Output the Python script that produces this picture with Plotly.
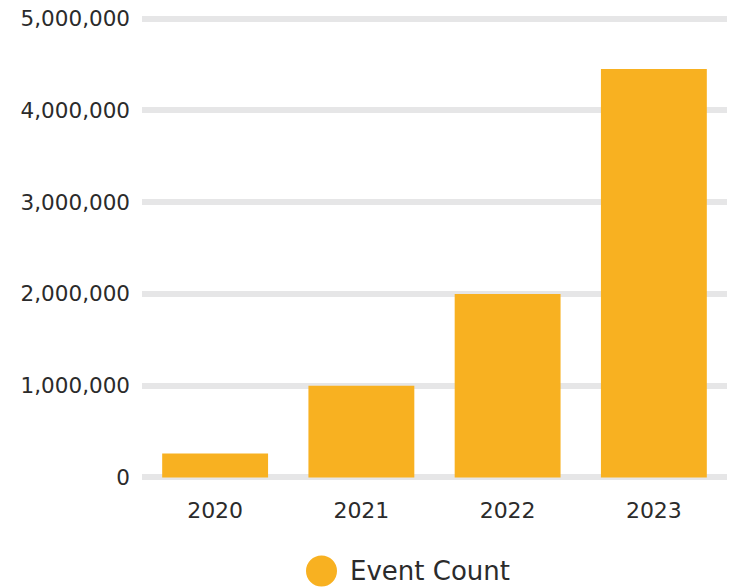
import plotly.graph_objects as go

years = ["2020", "2021", "2022", "2023"]
event_counts = [260000, 1000000, 2000000, 4450000]
y_ticks = [0, 1000000, 2000000, 3000000, 4000000, 5000000]
y_tick_labels = ["0", "1,000,000", "2,000,000", "3,000,000", "4,000,000", "5,000,000"]
series_name = "Event Count"

BAR_COLOR = "#F8B121"
GRID_COLOR = "#E6E6E7"
TEXT_COLOR = "#2B2B2B"
FONT = "DejaVu Sans"

fig = go.Figure()
fig.add_trace(go.Bar(x=years, y=event_counts, marker_color=BAR_COLOR,
                     marker_line_width=0, name=series_name, showlegend=False))

fig.update_layout(
    width=735, height=587,
    margin=dict(l=142, r=8, t=14, b=105, autoexpand=False),
    paper_bgcolor="white", plot_bgcolor="white",
    bargap=0.276,
    font=dict(family=FONT, size=21.5, color=TEXT_COLOR),
    xaxis=dict(type="category", showgrid=False, showline=False, zeroline=False,
               ticks="", ticklabelstandoff=13, automargin=False,
               tickfont=dict(family=FONT, size=22, color=TEXT_COLOR)),
    yaxis=dict(range=[-50000, 5050000], tickvals=y_ticks, ticktext=y_tick_labels,
               showgrid=True, gridcolor=GRID_COLOR, gridwidth=6, automargin=False,
               zeroline=False, showline=False, ticks="", ticklabelstandoff=11,
               tickfont=dict(family=FONT, size=21.5, color=TEXT_COLOR)),
    shapes=[dict(type="circle", xref="paper", yref="paper",
                 x0=(306 - 142) / 585, x1=(337 - 142) / 585,
                 y0=(587 - 105 - 586.5) / 468, y1=(587 - 105 - 555.5) / 468,
                 fillcolor=BAR_COLOR, line_width=0)],
    annotations=[dict(text=series_name, xref="paper", yref="paper",
                      x=(348 - 142) / 585, y=(587 - 105 - 571) / 468,
                      xanchor="left", yanchor="middle", showarrow=False,
                      font=dict(family=FONT, size=26, color=TEXT_COLOR))],
)

fig.write_html("out.html")
